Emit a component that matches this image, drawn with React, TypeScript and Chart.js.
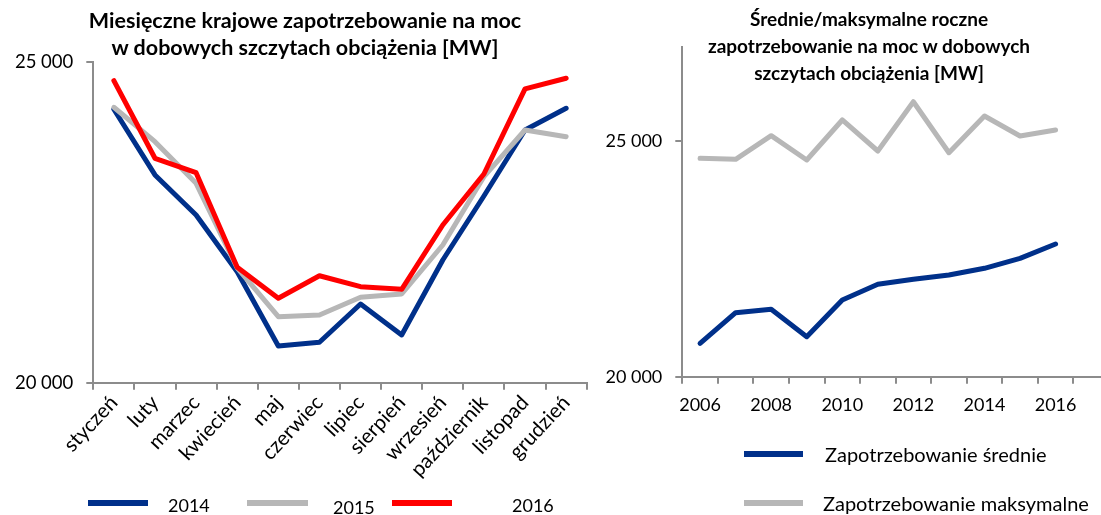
import React, { useEffect, useRef } from 'react';
import { Chart, registerables } from 'chart.js';

Chart.register(...registerables);

// ---------- data ----------
const months = ['styczeń', 'luty', 'marzec', 'kwiecień', 'maj', 'czerwiec', 'lipiec', 'sierpień', 'wrzesień', 'październik', 'listopad', 'grudzień'];
const demand2014 = [24263, 23239, 22615, 21731, 20572, 20630, 21227, 20744, 21913, 22911, 23940, 24279];
const demand2015 = [24294, 23758, 23109, 21789, 21029, 21056, 21332, 21383, 22147, 23212, 23940, 23836];
const demand2016 = [24709, 23499, 23275, 21799, 21316, 21668, 21497, 21456, 22459, 23254, 24580, 24747];
const leftYTicks = [20000, 25000];

const years = ['2006', '2007', '2008', '2009', '2010', '2011', '2012', '2013', '2014', '2015', '2016'];
const avgDemand = [20709, 21358, 21430, 20849, 21627, 21961, 22067, 22158, 22300, 22512, 22816];
const maxDemand = [24634, 24613, 25114, 24598, 25447, 24789, 25835, 24753, 25532, 25107, 25235];
const rightYTicks = [20000, 25000];

const leftTitle = ['Miesięczne krajowe zapotrzebowanie na moc', 'w dobowych szczytach obciążenia [MW]'];
const rightTitle = ['Średnie/maksymalne roczne', 'zapotrzebowanie na moc w dobowych', 'szczytach obciążenia [MW]'];
const leftLegend = ['2014', '2015', '2016'];
const rightLegend = ['Zapotrzebowanie średnie', 'Zapotrzebowanie maksymalne'];

const BLUE = '#00308A';
const GRAY = '#B7B7B7';
const RED = '#FF0000';
const AXIS = '#8C8C8C';
const FONT = 'Lato';

const fmt = (v: number | string) => String(v).replace(/\B(?=(\d{3})+(?!\d))/g, ' ');

function axisBase() {
  return {
    grid: { display: true, drawOnChartArea: false, drawTicks: true, tickLength: 7, color: AXIS, lineWidth: 2 },
    border: { display: true, color: AXIS, width: 2 },
  };
}

export default function App() {
  const leftRef = useRef<HTMLCanvasElement | null>(null);
  const rightRef = useRef<HTMLCanvasElement | null>(null);

  useEffect(() => {
    Chart.defaults.font.family = FONT;
    const line = (label: string, data: number[], color: string, order: number) => ({
      label, data, borderColor: color, backgroundColor: color, borderWidth: 5,
      pointRadius: 0, pointHoverRadius: 0, tension: 0, order,
      borderCapStyle: 'round', borderJoinStyle: 'round', fill: false,
    });

    const left = new Chart(leftRef.current as HTMLCanvasElement, {
      type: 'line',
      data: {
        labels: months,
        datasets: [
          line(leftLegend[0], demand2014, BLUE, 2),
          line(leftLegend[1], demand2015, GRAY, 1),
          line(leftLegend[2], demand2016, RED, 0),
        ] as any,
      },
      options: {
        animation: false,
        responsive: false,
        layout: { padding: { left: 0, right: 33.3, top: 62, bottom: 0 } },
        plugins: {
          legend: { display: false },
          tooltip: { enabled: false },
          title: { display: false },
        },
        scales: {
          x: {
            type: 'category', offset: true,
            ...axisBase(),
            grid: { ...axisBase().grid, offset: true },
            ticks: { color: '#000', font: { family: FONT, size: 20.5 }, maxRotation: 47, minRotation: 47, autoSkip: false, padding: 1 },
            afterFit: (s: any) => { s.height = 515 - 382.7; },
          },
          y: {
            min: leftYTicks[0], max: leftYTicks[1],
            ...axisBase(),
            ticks: { color: '#000', font: { family: FONT, size: 18.5 }, padding: 13, callback: (v: any) => fmt(v) },
            afterBuildTicks: (s: any) => { s.ticks = leftYTicks.map((v) => ({ value: v })); },
            afterFit: (s: any) => { s.width = 93.3; },
          },
        },
      } as any,
    });

    const right = new Chart(rightRef.current as HTMLCanvasElement, {
      type: 'line',
      data: {
        labels: [...years, ''],
        datasets: [
          line(rightLegend[0], avgDemand, BLUE, 0),
          line(rightLegend[1], maxDemand, GRAY, 1),
        ] as any,
      },
      options: {
        animation: false,
        responsive: false,
        layout: { padding: { left: 0, right: 11.1, top: 46.8, bottom: 0 } },
        plugins: {
          legend: { display: false },
          tooltip: { enabled: false },
          title: { display: false },
        },
        scales: {
          x: {
            type: 'category', offset: true,
            ...axisBase(),
            grid: { ...axisBase().grid, offset: true },
            ticks: {
              color: '#000', font: { family: FONT, size: 18 }, maxRotation: 0, minRotation: 0, autoSkip: false, padding: 11,
              callback: (_v: any, i: number) => (i % 2 === 0 && i < years.length ? years[i] : ''),
            },
            afterFit: (s: any) => { s.height = 515 - 376.7; },
          },
          y: {
            min: 20000, max: 27000,
            ...axisBase(),
            ticks: { color: '#000', font: { family: FONT, size: 18 }, padding: 13, callback: (v: any) => fmt(v) },
            afterBuildTicks: (s: any) => { s.ticks = rightYTicks.map((v) => ({ value: v })); },
            afterFit: (s: any) => { s.width = 92.3; },
          },
        },
      } as any,
    });

    return () => { left.destroy(); right.destroy(); };
  }, []);

  const txt = (left: number, cy: number, size: number): React.CSSProperties => ({
    position: 'absolute', left, top: cy - size * 0.6, fontFamily: FONT, fontSize: size, lineHeight: 1.2, color: '#000', whiteSpace: 'nowrap',
  });
  const sample = (left: number, top: number, width: number, color: string): React.CSSProperties => ({
    position: 'absolute', left, top, width, height: 6, background: color,
  });
  const title = (cx: number, top: number, size: number): React.CSSProperties => ({
    position: 'absolute', left: cx - 300, width: 600, top, textAlign: 'center', fontFamily: FONT, fontWeight: 'bold',
    fontSize: size, lineHeight: '27px', color: '#000', whiteSpace: 'nowrap',
  });

  return (
    <div style={{ position: 'absolute', left: 0, top: 0, width: 1101, height: 515, overflow: 'hidden', background: '#fff' }}>
      <canvas ref={leftRef} width={620} height={515} style={{ position: 'absolute', left: 0, top: 0 }} />
      <canvas ref={rightRef} width={530} height={515} style={{ position: 'absolute', left: 590, top: 0 }} />

      <div style={title(305, 6.5, 21.5)}>
        {leftTitle.map((t, i) => <div key={i}>{t}</div>)}
      </div>
      <div style={title(869, 4.5, 19)}>
        {rightTitle.map((t, i) => <div key={i}>{t}</div>)}
      </div>

      <div style={sample(88, 500, 60, BLUE)} />
      <div style={txt(168, 506, 18)}>{leftLegend[0]}</div>
      <div style={sample(247, 500, 61, GRAY)} />
      <div style={txt(333, 508, 18)}>{leftLegend[1]}</div>
      <div style={sample(392, 500, 60, RED)} />
      <div style={txt(512, 506, 18)}>{leftLegend[2]}</div>

      <div style={sample(744, 451, 59, BLUE)} />
      <div style={txt(825, 454, 20)}>{rightLegend[0]}</div>
      <div style={sample(744, 500, 59, GRAY)} />
      <div style={txt(823, 503, 20)}>{rightLegend[1]}</div>
    </div>
  );
}
